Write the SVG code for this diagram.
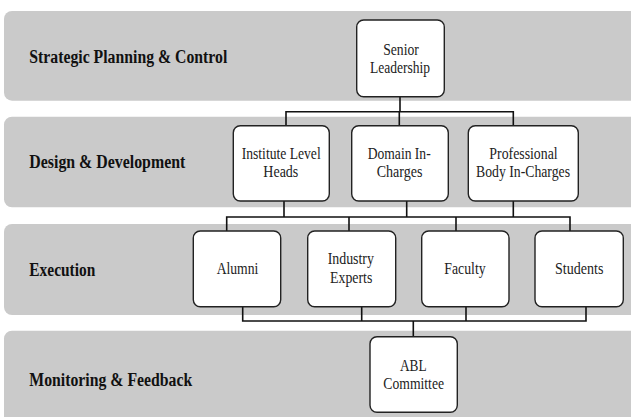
<svg xmlns="http://www.w3.org/2000/svg" width="631" height="417" viewBox="0 0 631 417">
<style>
.band{fill:#cacaca}
.box{fill:#ffffff;stroke:#222;stroke-width:1.4}
.lbl{font-family:'Liberation Serif',serif;font-weight:bold;font-size:18px;fill:#111}
.t{font-family:'Liberation Serif',serif;font-size:16px;fill:#222;text-anchor:middle}
.c{fill:none;stroke:#111;stroke-width:1.6}
</style>
<rect width="631" height="417" fill="#ffffff"/>
<g id="bands">
<rect class="band" x="4" y="11" width="640" height="89.7" rx="8"/>
<rect class="band" x="4" y="116.7" width="640" height="90.6" rx="8"/>
<rect class="band" x="4" y="224" width="640" height="91" rx="8"/>
<rect class="band" x="4" y="330.7" width="640" height="100" rx="8"/>
<text class="lbl" x="29.3" y="62.5" textLength="198" lengthAdjust="spacingAndGlyphs">Strategic Planning &amp; Control</text>
<text class="lbl" x="29.3" y="168.3" textLength="156" lengthAdjust="spacingAndGlyphs">Design &amp; Development</text>
<text class="lbl" x="29.3" y="276" textLength="66" lengthAdjust="spacingAndGlyphs">Execution</text>
<text class="lbl" x="29.3" y="385.5" textLength="163" lengthAdjust="spacingAndGlyphs">Monitoring &amp; Feedback</text>
</g>
<g id="connectors">
<path class="c" d="M400,96.7V111.7M286,125.7V111.7H513.3V125.7M399.3,111.7V125.7"/>
<path class="c" d="M284,201V217M406.7,201V217M513.3,201V217M226.7,231V217H570V231M349,217V231M456,217V231"/>
<path class="c" d="M242.7,306.7V321H586V306.7M361.7,306.7V321M466,306.7V321M413.3,321V336.7"/>
</g>
<g id="senior">
<rect class="box" x="356.7" y="20" width="87.6" height="76.7" rx="7"/>
<text class="t" x="401" y="55" textLength="35.7" lengthAdjust="spacingAndGlyphs">Senior</text>
<text class="t" x="400" y="72.7" textLength="60" lengthAdjust="spacingAndGlyphs">Leadership</text>
</g>
<g id="institute">
<rect class="box" x="233.3" y="125.7" width="96" height="75.3" rx="7"/>
<text class="t" x="281.2" y="159" textLength="79" lengthAdjust="spacingAndGlyphs">Institute Level</text>
<text class="t" x="280.8" y="177.3" textLength="35" lengthAdjust="spacingAndGlyphs">Heads</text>
</g>
<g id="domain">
<rect class="box" x="351.7" y="125.7" width="96.6" height="75.3" rx="7"/>
<text class="t" x="399.2" y="159" textLength="63" lengthAdjust="spacingAndGlyphs">Domain In-</text>
<text class="t" x="399.5" y="177.3" textLength="45.7" lengthAdjust="spacingAndGlyphs">Charges</text>
</g>
<g id="professional">
<rect class="box" x="468.3" y="125.7" width="110" height="75.3" rx="7"/>
<text class="t" x="523.5" y="159" textLength="68.3" lengthAdjust="spacingAndGlyphs">Professional</text>
<text class="t" x="523" y="177.3" textLength="94" lengthAdjust="spacingAndGlyphs">Body In-Charges</text>
</g>
<g id="alumni">
<rect class="box" x="193.3" y="231" width="87.4" height="75.7" rx="7"/>
<text class="t" x="237.5" y="274.3" textLength="41.7" lengthAdjust="spacingAndGlyphs">Alumni</text>
</g>
<g id="industry">
<rect class="box" x="307.7" y="231" width="88" height="75.7" rx="7"/>
<text class="t" x="350.8" y="264" textLength="46.3" lengthAdjust="spacingAndGlyphs">Industry</text>
<text class="t" x="351.2" y="283.3" textLength="42.3" lengthAdjust="spacingAndGlyphs">Experts</text>
</g>
<g id="faculty">
<rect class="box" x="421.7" y="231" width="87.3" height="75.7" rx="7"/>
<text class="t" x="465" y="274.3" textLength="41.3" lengthAdjust="spacingAndGlyphs">Faculty</text>
</g>
<g id="students">
<rect class="box" x="535" y="231" width="88.3" height="75.7" rx="7"/>
<text class="t" x="579.2" y="274.3" textLength="48.3" lengthAdjust="spacingAndGlyphs">Students</text>
</g>
<g id="abl">
<rect class="box" x="370" y="336.7" width="87.3" height="75.6" rx="7"/>
<text class="t" x="413.3" y="370.7" textLength="26.7" lengthAdjust="spacingAndGlyphs">ABL</text>
<text class="t" x="413.7" y="389.3" textLength="60.7" lengthAdjust="spacingAndGlyphs">Committee</text>
</g>
</svg>
